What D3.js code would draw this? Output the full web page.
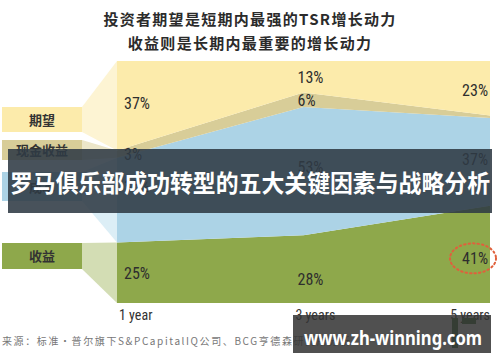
<!DOCTYPE html>
<html>
<head>
<meta charset="utf-8">
<script src="https://cdn.jsdelivr.net/npm/d3@7"></script>
<style>
body { margin: 0; background: #fff; }
svg { display: block; }
</style>
</head>
<body>
<svg id="chart" width="500" height="362"></svg>
<script>
// data
var periods = ["1 year", "3 years", "5 years"];
var seriesNames = ["收益", "成本", "现金收益", "期望"];   // bottom -> top
var revenue  = [25, 28, 41];
var cost     = [35, 53, 37];
var cashYield = [3, 6, 1];
var expect   = [37, 13, 23];
var labelText = [["25%", "28%", "41%"], ["35%", "53%", "37%"], ["3%", "6%", ""], ["37%", "13%", "23%"]];
var titleLines = ["投资者期望是短期内最强的TSR增长动力", "收益则是长期内最重要的增长动力"];
var sourceText = "来源：标准・普尔旗下S&PCapitalIQ公司、BCG亨德森研究所分析";
var bannerText = "罗马俱乐部成功转型的五大关键因素与战略分析";
var watermark = "www.zh-winning.com";

var colors = ["#8ea84b", "#acd3e6", "#d8cd98", "#fcebab"];
var lightColors = ["#d3ddb4", "#dceef6", "#ece6c9", "#fdf4d3"];

var svg = d3.select("#chart");
var plotL = 117, plotR = 490, plotT = 61, plotB = 303;

var rows = periods.map(function(p, i) {
  return { period: p, "收益": revenue[i], "成本": cost[i], "现金收益": cashYield[i], "期望": expect[i] };
});

var stack = d3.stack().keys(seriesNames).offset(d3.stackOffsetExpand);
var layers = stack(rows);

var x = d3.scalePoint().domain(periods).range([plotL, plotR]);
var y = d3.scaleLinear().domain([0, 1]).range([plotB, plotT]);

// title
svg.selectAll(".title").data(titleLines).enter().append("text")
  .attr("x", 250).attr("y", function(d, i) { return 25 + i * 24; })
  .attr("text-anchor", "middle")
  .style("font-family", "'Noto Sans CJK SC', sans-serif")
  .style("font-weight", "bold").style("font-size", "15px")
  .style("letter-spacing", "1.3px")
  .style("fill", "#2b2b2b")
  .text(function(d) { return d; });

// stacked areas
var area = d3.area()
  .x(function(d) { return x(d.data.period); })
  .y0(function(d) { return y(d[0]); })
  .y1(function(d) { return y(d[1]); });

svg.selectAll(".layer").data(layers).enter().append("path")
  .attr("class", "layer")
  .attr("d", area)
  .attr("fill", function(d, i) { return colors[i]; });

// left legend boxes with connectors to the first column
var boxes = [
  { y0: 243, y1: 269 },  // 收益
  { y0: 172, y1: 201 },  // 成本
  { y0: 140, y1: 160 },  // 现金收益
  { y0: 107, y1: 132 }   // 期望
];
var bx0 = 2, bx1 = 82;
layers.forEach(function(layer, i) {
  var first = layer[0];
  var b = boxes[i];
  svg.append("path")
    .attr("d", "M" + bx1 + "," + b.y0 + "L" + x(periods[0]) + "," + y(first[1]) +
               "L" + x(periods[0]) + "," + y(first[0]) + "L" + bx1 + "," + b.y1 + "Z")
    .attr("fill", lightColors[i]);
  svg.append("rect")
    .attr("x", bx0).attr("y", b.y0).attr("width", bx1 - bx0).attr("height", b.y1 - b.y0)
    .attr("fill", colors[i]);
  svg.append("text")
    .attr("x", (bx0 + bx1) / 2).attr("y", (b.y0 + b.y1) / 2 + 5)
    .attr("text-anchor", "middle")
    .style("font-family", "'Noto Sans CJK SC', sans-serif")
    .style("font-weight", "bold").style("font-size", "13px")
    .style("fill", "#333")
    .text(seriesNames[i]);
});

// percentage labels
var narrow = "'Liberation Sans Narrow', 'Arial Narrow', 'Roboto Condensed', sans-serif";
var nudge = [[0, 10, 4], [-14, -4, -3], [0, 0, 0], [-3, 0, 2]];
layers.forEach(function(layer, i) {
  layer.forEach(function(d, j) {
    if (!labelText[i][j]) return;
    var mid = (y(d[0]) + y(d[1])) / 2 + nudge[i][j];
    var anchor = j == 2 ? "end" : "start";
    var lx = j == 0 ? x(periods[0]) + 7 : (j == 1 ? x(periods[1]) - 6 : x(periods[2]) - 2);
    svg.append("text")
      .attr("x", lx).attr("y", mid + 6)
      .attr("text-anchor", anchor)
      .style("font-family", narrow).style("font-size", "16px")
      .style("fill", "#2e2e2e")
      .text(labelText[i][j]);
  });
});

// red dotted ring around 41%
var last = layers[0][2];
svg.append("ellipse")
  .attr("cx", x(periods[2]) - 17).attr("cy", (y(last[0]) + y(last[1])) / 2 + 4)
  .attr("rx", 23).attr("ry", 15)
  .attr("fill", "none").attr("stroke", "#e0603c").attr("stroke-width", 2)
  .attr("stroke-dasharray", "1.5,3").attr("stroke-linecap", "round");

// x labels
svg.selectAll(".xlab").data(periods).enter().append("text")
  .attr("x", function(d, i) { return i == 0 ? x(d) + 2 : (i == 1 ? x(d) - 8 : x(d)); })
  .attr("y", 320)
  .attr("text-anchor", function(d, i) { return i == 2 ? "end" : "start"; })
  .style("font-family", narrow).style("font-size", "14px")
  .style("fill", "#333")
  .text(function(d) { return d; });

// source
svg.append("text")
  .attr("x", 2).attr("y", 345)
  .style("font-family", "'Noto Sans CJK SC', sans-serif")
  .style("font-size", "10px").style("letter-spacing", "1.6px")
  .style("fill", "#777")
  .text(sourceText);

// banner overlay
svg.append("rect")
  .attr("x", 8).attr("y", 149).attr("width", 484).attr("height", 64)
  .attr("fill", "#2f3a44").attr("opacity", 0.88);
svg.append("text")
  .attr("x", 250).attr("y", 192)
  .attr("text-anchor", "middle")
  .attr("textLength", 480).attr("lengthAdjust", "spacingAndGlyphs")
  .style("font-family", "'Noto Sans CJK SC', sans-serif")
  .style("font-weight", "bold").style("font-size", "24px")
  .style("fill", "#fff")
  .text(bannerText);

// watermark
svg.append("rect").attr("x", 452).attr("y", 318).attr("width", 6).attr("height", 30).attr("fill", "#3f7a3a");
svg.append("rect").attr("x", 462).attr("y", 318).attr("width", 14).attr("height", 6).attr("fill", "#3f7a3a");
svg.append("rect")
  .attr("x", 293).attr("y", 315).attr("width", 198).attr("height", 38)
  .attr("fill", "#333").attr("opacity", 0.86);
svg.append("text")
  .attr("x", 304).attr("y", 345)
  .attr("textLength", 178).attr("lengthAdjust", "spacingAndGlyphs")
  .style("font-family", "'Noto Sans', sans-serif")
  .style("font-weight", "bold").style("font-size", "19px")
  .style("fill", "#fff")
  .text(watermark);
</script>
</body>
</html>
